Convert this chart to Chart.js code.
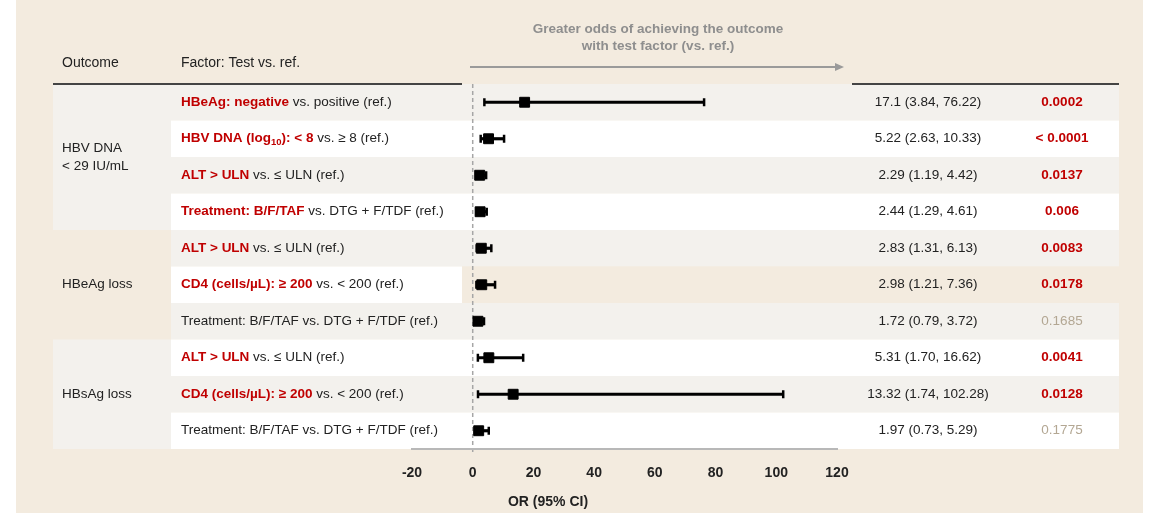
<!DOCTYPE html>
<html>
<head>
<meta charset="utf-8">
<script src="https://cdn.jsdelivr.net/npm/chart.js@4/dist/chart.umd.min.js"></script>
<style>
  html, body { margin: 0; padding: 0; background: #ffffff; }
  canvas { display: block; }
</style>
</head>
<body>
<canvas id="chart" width="1156" height="513"></canvas>
<script>
// --- data ---
const outcomeLabels = [['HBV DNA', '< 29 IU/mL'], ['HBeAg loss'], ['HBsAg loss']];
const outcomeRows = [[0, 3], [4, 6], [7, 9]];
const outcomeShaded = [true, false, true];

// factor text: [text, style] where style 0 = normal, 1 = red bold, 2 = red bold subscript
const factorLabels = [
  [['HBeAg: negative', 1], [' vs. positive (ref.)', 0]],
  [['HBV DNA (log', 1], ['10', 2], ['): < 8', 1], [' vs. ≥ 8 (ref.)', 0]],
  [['ALT > ULN', 1], [' vs. ≤ ULN (ref.)', 0]],
  [['Treatment: B/F/TAF', 1], [' vs. DTG + F/TDF (ref.)', 0]],
  [['ALT > ULN', 1], [' vs. ≤ ULN (ref.)', 0]],
  [['CD4 (cells/µL): ≥ 200', 1], [' vs. < 200 (ref.)', 0]],
  [['Treatment: B/F/TAF vs. DTG + F/TDF (ref.)', 0]],
  [['ALT > ULN', 1], [' vs. ≤ ULN (ref.)', 0]],
  [['CD4 (cells/µL): ≥ 200', 1], [' vs. < 200 (ref.)', 0]],
  [['Treatment: B/F/TAF vs. DTG + F/TDF (ref.)', 0]]
];

const orValues = [17.1, 5.22, 2.29, 2.44, 2.83, 2.98, 1.72, 5.31, 13.32, 1.97];
const ciLow = [3.84, 2.63, 1.19, 1.29, 1.31, 1.21, 0.79, 1.70, 1.74, 0.73];
const ciHigh = [76.22, 10.33, 4.42, 4.61, 6.13, 7.36, 3.72, 16.62, 102.28, 5.29];
const orLabels = ['17.1 (3.84, 76.22)', '5.22 (2.63, 10.33)', '2.29 (1.19, 4.42)', '2.44 (1.29, 4.61)',
  '2.83 (1.31, 6.13)', '2.98 (1.21, 7.36)', '1.72 (0.79, 3.72)', '5.31 (1.70, 16.62)',
  '13.32 (1.74, 102.28)', '1.97 (0.73, 5.29)'];
const pValues = ['0.0002', '< 0.0001', '0.0137', '0.006', '0.0083', '0.0178', '0.1685', '0.0041', '0.0128', '0.1775'];
const pSignificant = [true, true, true, true, true, true, false, true, true, false];

// row band: g = grey, w = white, b = beige (white under the factor text)
const rowBands = ['g', 'w', 'g', 'w', 'g', 'b', 'g', 'w', 'g', 'w'];
const xTicks = [-20, 0, 20, 40, 60, 80, 100, 120];

// colours
const BEIGE = '#f3ebdf';
const GREY = '#f3f1ed';
const RED = '#c00000';
const TEXT = '#222222';
const MUTED = '#b3a793';
const FONT = '"Liberation Sans", Arial, sans-serif';

const rows = orValues.map((v, i) => i);

const tablePlugin = {
  id: 'table',
  beforeDraw(chart) {
    const ctx = chart.ctx;
    const y = chart.scales.y;
    const x = chart.scales.x;
    const rowH = Math.abs(y.getPixelForValue(1) - y.getPixelForValue(0));
    ctx.save();
    // beige panel
    ctx.fillStyle = BEIGE;
    ctx.fillRect(16, 0, 1127, 513);

    // row bands
    rowBands.forEach((b, i) => {
      const top = y.getPixelForValue(i) - rowH / 2;
      if (b === 'b') {
        ctx.fillStyle = '#ffffff';
        ctx.fillRect(171, top, 291, rowH);
        ctx.fillStyle = BEIGE;
        ctx.fillRect(462, top, 1119 - 462, rowH);
      } else {
        ctx.fillStyle = b === 'g' ? GREY : '#ffffff';
        ctx.fillRect(171, top, 1119 - 171, rowH);
      }
    });
    // outcome column
    outcomeRows.forEach((r, k) => {
      if (!outcomeShaded[k]) return;
      const top = y.getPixelForValue(r[0]) - rowH / 2;
      const bot = y.getPixelForValue(r[1]) + rowH / 2;
      ctx.fillStyle = GREY;
      ctx.fillRect(53, top, 118, bot - top);
    });

    // header rule
    const hy = y.getPixelForValue(0) - rowH / 2;
    ctx.strokeStyle = '#444444';
    ctx.lineWidth = 2;
    ctx.beginPath();
    ctx.moveTo(53, hy); ctx.lineTo(462, hy);
    ctx.moveTo(852, hy); ctx.lineTo(1119, hy);
    ctx.stroke();

    // dashed reference line at OR = 0
    const x0 = x.getPixelForValue(0);
    ctx.strokeStyle = '#a6a6a6';
    ctx.lineWidth = 1.5;
    ctx.setLineDash([4, 3]);
    ctx.beginPath();
    ctx.moveTo(x0, hy);
    ctx.lineTo(x0, chart.chartArea.bottom + 3);
    ctx.stroke();
    ctx.setLineDash([]);

    // direction arrow
    ctx.strokeStyle = '#9a9a9a';
    ctx.fillStyle = '#9a9a9a';
    ctx.lineWidth = 2;
    ctx.beginPath();
    ctx.moveTo(470, 67); ctx.lineTo(836, 67);
    ctx.stroke();
    ctx.beginPath();
    ctx.moveTo(844, 67); ctx.lineTo(835, 63); ctx.lineTo(835, 71);
    ctx.closePath();
    ctx.fill();
    ctx.restore();
  },
  afterDraw(chart) {
    const ctx = chart.ctx;
    const y = chart.scales.y;
    ctx.save();
    ctx.textBaseline = 'middle';

    // arrow caption
    ctx.fillStyle = '#8e8e8e';
    ctx.font = 'bold 13.5px ' + FONT;
    ctx.textAlign = 'center';
    ctx.fillText('Greater odds of achieving the outcome', 658, 29);
    ctx.fillText('with test factor (vs. ref.)', 658, 46);

    // header
    ctx.fillStyle = TEXT;
    ctx.font = '14px ' + FONT;
    ctx.textAlign = 'left';
    ctx.fillText('Outcome', 62, 63);
    ctx.fillText('Factor: Test vs. ref.', 181, 63);

    // outcome labels
    ctx.font = '13.5px ' + FONT;
    outcomeLabels.forEach((lines, k) => {
      const r = outcomeRows[k];
      const mid = (y.getPixelForValue(r[0]) + y.getPixelForValue(r[1])) / 2;
      lines.forEach((t, j) => {
        ctx.fillText(t, 62, mid + (j - (lines.length - 1) / 2) * 18);
      });
    });

    // factor text
    factorLabels.forEach((segs, i) => {
      const cy = y.getPixelForValue(i);
      let px = 181;
      segs.forEach(([t, s]) => {
        if (s === 0) { ctx.font = '13.5px ' + FONT; ctx.fillStyle = TEXT; }
        else if (s === 1) { ctx.font = 'bold 13.5px ' + FONT; ctx.fillStyle = RED; }
        else { ctx.font = 'bold 9.5px ' + FONT; ctx.fillStyle = RED; }
        ctx.fillText(t, px, s === 2 ? cy + 4 : cy);
        px += ctx.measureText(t).width;
      });
    });

    // OR (95% CI) and p-values
    ctx.textAlign = 'center';
    rows.forEach(i => {
      const cy = y.getPixelForValue(i);
      ctx.font = '13.5px ' + FONT;
      ctx.fillStyle = TEXT;
      ctx.fillText(orLabels[i], 928, cy);
      ctx.font = (pSignificant[i] ? 'bold ' : '') + '13.5px ' + FONT;
      ctx.fillStyle = pSignificant[i] ? RED : MUTED;
      ctx.fillText(pValues[i], 1062, cy);
    });

    // axis title
    ctx.font = 'bold 14px ' + FONT;
    ctx.fillStyle = TEXT;
    ctx.fillText('OR (95% CI)', 548, 502);
    ctx.restore();
  }
};

new Chart(document.getElementById('chart'), {
  type: 'bar',
  data: {
    datasets: [
      {
        type: 'scatter',
        label: 'OR',
        data: rows.map(i => ({ x: orValues[i], y: i })),
        pointStyle: 'rect',
        pointRadius: 7,
        backgroundColor: '#000000',
        borderColor: '#000000',
        borderWidth: 1,
        order: 0
      },
      {
        type: 'scatter',
        label: 'caps',
        data: rows.flatMap(i => [{ x: ciLow[i], y: i }, { x: ciHigh[i], y: i }]),
        pointStyle: 'line',
        rotation: 90,
        pointRadius: 4,
        borderColor: '#000000',
        borderWidth: 2.5,
        order: 1
      },
      {
        type: 'bar',
        label: '95% CI',
        data: rows.map(i => ({ x: [ciLow[i], ciHigh[i]], y: i })),
        backgroundColor: '#000000',
        barThickness: 2.5,
        order: 2
      }
    ]
  },
  options: {
    indexAxis: 'y',
    responsive: false,
    devicePixelRatio: 1,
    animation: false,
    layout: { padding: { left: 412, right: 319, top: 84, bottom: 0 } },
    plugins: { legend: { display: false }, tooltip: { enabled: false } },
    scales: {
      x: {
        type: 'linear',
        min: -20,
        max: 120,
        afterBuildTicks: s => { s.ticks = xTicks.map(v => ({ value: v })); },
        afterFit: s => { s.height = 64; },
        grid: { display: false, drawTicks: false },
        border: { display: true, color: '#b8b8b8', width: 2 },
        ticks: {
          padding: 16,
          color: TEXT,
          font: { family: FONT, size: 14, weight: 'bold' },
          maxRotation: 0
        }
      },
      y: {
        type: 'linear',
        min: -0.5,
        max: 9.5,
        reverse: true,
        offset: false,
        display: false
      }
    }
  },
  plugins: [tablePlugin]
});
</script>
</body>
</html>
